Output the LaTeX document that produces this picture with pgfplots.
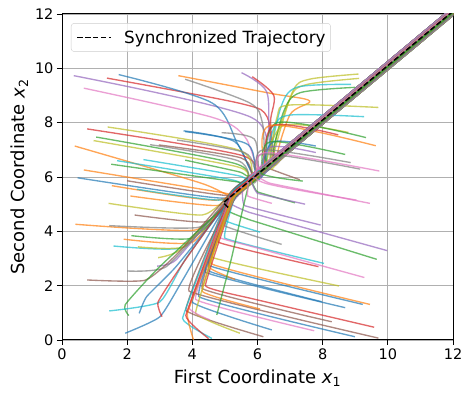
\documentclass[border=0pt]{standalone}
\usepackage{fontspec}
\setmainfont{DejaVu Sans}
\usepackage{pgfplots}
\pgfplotsset{compat=1.18}
\definecolor{C0}{RGB}{31,119,180}
\definecolor{C1}{RGB}{255,127,14}
\definecolor{C2}{RGB}{44,160,44}
\definecolor{C3}{RGB}{214,39,40}
\definecolor{C4}{RGB}{148,103,189}
\definecolor{C5}{RGB}{140,86,75}
\definecolor{C6}{RGB}{227,119,194}
\definecolor{C7}{RGB}{127,127,127}
\definecolor{C8}{RGB}{188,189,34}
\definecolor{C9}{RGB}{23,190,207}
\definecolor{gridgray}{RGB}{176,176,176}
\definecolor{leggray}{RGB}{204,204,204}
\pgfplotsset{tr/.style={line width=1.35pt, opacity=0.7, smooth, tension=0.5, forget plot, mark=none},
  tb/.style={tr, tension=0.3}, tc/.style={tr, tension=0.12}}
\begin{document}
\begin{tikzpicture}
\begin{axis}[name=ax, scale only axis, width=391pt, height=326pt,
  xmin=0, xmax=12, ymin=0, ymax=12,
  xtick={0,2,...,12}, ytick={0,2,...,12},
  grid=major, grid style={color=gridgray, line width=0.8pt},
  axis line style={line width=1pt},
  tick align=outside, tick pos=left, major tick length=5pt,
  tick style={black, line width=0.9pt},
  ticklabel style={font=\fontsize{14.5}{17}\selectfont},
  /pgf/number format/assume math mode=true,
  label style={font=\fontsize{18}{21}\selectfont},
  xlabel={First Coordinate {\itshape x}\textsubscript{1}},
  ylabel={Second Coordinate {\itshape x}\textsubscript{2}},
  xlabel style={yshift=-3pt},
  legend style={at={(0.023,0.972)}, anchor=north west, draw=leggray, rounded corners=3pt,
    fill=white, fill opacity=0.8, text opacity=1, inner xsep=3pt, inner ysep=5pt,
    font=\fontsize{16.8}{19}\selectfont},
  legend cell align=left,
  legend image code/.code={\path[draw=none, fill=none] (-3pt,-9pt) rectangle (45pt,9pt); \draw[#1] (0pt,0pt) -- (34pt,0pt);},
]
% Group A
\addplot[tr, color=C4] coordinates {(0.36,9.73) (5.8,8.2) (6.3,6.4) (7.1,7.2) (13,13.1)};
\addplot[tr, color=C3] coordinates {(1.38,9.64) (5.5,8.7) (6.3,8.2) (6.5,6.7) (7.3,7.5) (13,13.2)};
\addplot[tr, color=C0] coordinates {(1.74,9.77) (4.6,8.73) (5.4,7.2) (6.0,6.0) (6.8,6.8) (13,13.0)};
\addplot[tr, color=C6] coordinates {(0.67,9.27) (4.6,8.2) (5.6,7.5) (6.1,6.25) (6.9,7.05) (13,13.15)};
\addplot[tr, color=C1] coordinates {(3.57,9.73) (6.4,9.08) (7.6,8.8) (7.0,8.3) (6.6,6.65) (7.4,7.45) (13,13.05)};
\addplot[tr, color=C7] coordinates {(3.78,9.6) (5.77,8.72) (6.15,8.0) (6.3,6.55) (7.1,7.35) (13,13.25)};
\addplot[tr, color=C4] coordinates {(5.51,9.84) (6.28,9.14) (6.35,7.5) (6.5,6.45) (7.3,7.25) (13,12.95)};
\addplot[tr, color=C3] coordinates {(5.84,9.69) (6.5,9.0) (6.4,8.0) (6.6,6.7) (7.4,7.5) (13,13.1)};
\addplot[tr, color=C0] coordinates {(3.73,7.7) (5.3,7.3) (5.9,6.1) (6.7,6.9) (13,13.2)};
\addplot[tr, color=C3] coordinates {(0.77,7.77) (5.5,6.8) (6.0,6.0) (6.8,6.8) (13,13.0)};
\addplot[tr, color=C8] coordinates {(1.4,7.84) (5.4,7.0) (5.9,6.05) (6.7,6.85) (13,13.15)};
\addplot[tr, color=C2] coordinates {(1.05,7.47) (5.3,6.5) (5.8,5.85) (6.6,6.65) (13,13.05)};
\addplot[tr, color=C8] coordinates {(0.97,7.34) (5.3,6.4) (5.75,6.0) (6.55,6.8) (13,13.25)};
\addplot[tr, color=C7] coordinates {(2.7,7.19) (5.4,6.6) (5.85,5.8) (6.65,6.6) (13,12.95)};
\addplot[tr, color=C5] coordinates {(2.97,7.18) (5.5,6.7) (5.9,6.0) (6.7,6.8) (13,13.1)};
\addplot[tr, color=C7] coordinates {(3.53,7.36) (5.6,6.9) (6.0,6.2) (6.8,7.0) (13,13.2)};
\addplot[tr, color=C1] coordinates {(0.39,7.14) (4.2,5.8) (5.3,5.3) (6.1,6.1) (13,13.0)};
\addplot[tr, color=C9] coordinates {(2.5,6.64) (5.4,6.05) (5.7,5.85) (6.5,6.65) (13,13.15)};
\addplot[tr, color=C9] coordinates {(1.69,6.6) (5.2,5.9) (5.6,5.65) (6.4,6.45) (13,13.05)};
\addplot[tr, color=C2] coordinates {(1.51,6.47) (5.2,5.85) (5.6,5.85) (6.4,6.65) (13,13.25)};
\addplot[tr, color=C1] coordinates {(0.67,6.26) (4.8,5.45) (5.4,5.35) (6.2,6.15) (13,12.95)};
\addplot[tr, color=C0] coordinates {(0.48,5.97) (4.6,5.25) (5.3,5.4) (6.1,6.2) (13,13.1)};
\addplot[tr, color=C1] coordinates {(1.53,5.68) (4.6,5.15) (5.3,5.5) (6.1,6.3) (13,13.2)};
\addplot[tr, color=C5] coordinates {(2.0,5.86) (4.8,5.35) (5.4,5.4) (6.2,6.2) (13,13.0)};
\addplot[tr, color=C9] coordinates {(2.3,5.55) (4.8,5.15) (5.35,5.5) (6.15,6.3) (13,13.15)};
\addplot[tr, color=C1] coordinates {(2.1,5.3) (4.7,4.95) (5.3,5.35) (6.1,6.15) (13,13.05)};
\addplot[tr, color=C2] coordinates {(3.78,6.62) (5.4,6.2) (5.8,6.05) (6.6,6.85) (13,13.25)};
\addplot[tr, color=C0] coordinates {(3.78,7.67) (5.7,7.2) (6.0,5.95) (6.8,6.75) (13,12.95)};
\addplot[tr, color=C7] coordinates {(4.9,7.63) (5.9,7.4) (6.1,6.2) (6.9,7.0) (13,13.1)};
% Group B
\addplot[tb, color=C8] coordinates {(1.43,5.03) (4.3,4.6) (5.3,5.5) (6.1,6.3) (13,13.2)};
\addplot[tb, color=C5] coordinates {(2.23,4.6) (4.4,4.35) (5.35,5.35) (6.15,6.15) (13,13.0)};
\addplot[tb, color=C1] coordinates {(0.41,4.26) (4.1,4.05) (5.3,5.45) (6.1,6.25) (13,13.15)};
\addplot[tb, color=C7] coordinates {(1.45,4.21) (4.2,4.15) (5.35,5.4) (6.15,6.2) (13,13.05)};
\addplot[tb, color=C1] coordinates {(1.89,3.71) (4.0,3.6) (5.25,5.5) (6.05,6.3) (13,13.25)};
\addplot[tb, color=C2] coordinates {(2.13,3.84) (4.0,3.75) (5.3,5.25) (6.1,6.05) (13,12.95)};
\addplot[tb, color=C9] coordinates {(1.58,3.46) (3.7,3.4) (5.2,5.3) (6.0,6.1) (13,13.1)};
\addplot[tb, color=C8] coordinates {(2.33,3.43) (3.8,3.45) (5.25,5.45) (6.05,6.25) (13,13.2)};
\addplot[tb, color=C8] coordinates {(2.95,3.03) (3.6,3.3) (5.2,5.2) (6.0,6.0) (13,13.0)};
\addplot[tb, color=C4] coordinates {(2.92,2.72) (3.5,2.95) (5.2,5.35) (6.0,6.15) (13,13.15)};
\addplot[tb, color=C7] coordinates {(2.0,2.54) (3.2,2.7) (5.1,5.15) (5.9,5.95) (13,13.05)};
\addplot[tb, color=C5] coordinates {(0.77,2.21) (2.55,2.2) (3.6,3.25) (5.2,5.45) (6.0,6.25) (13,13.25)};
\addplot[tb, color=C2] coordinates {(2.05,0.9) (1.94,1.3) (3.0,2.7) (5.2,5.15) (6.0,5.95) (13,12.95)};
\addplot[tb, color=C9] coordinates {(1.45,1.07) (3.0,1.4) (3.8,3.0) (5.3,5.4) (6.1,6.2) (13,13.1)};
\addplot[tb, color=C0] coordinates {(1.94,0.25) (3.0,0.85) (3.7,2.2) (5.3,5.5) (6.1,6.3) (13,13.2)};
\addplot[tb, color=C0] coordinates {(2.37,0.98) (2.6,1.6) (3.5,2.7) (5.2,5.2) (6.0,6.0) (13,13.0)};
\addplot[tb, color=C3] coordinates {(3.07,0.86) (2.95,1.4) (3.7,2.8) (5.25,5.4) (6.05,6.2) (13,13.15)};
% Group C
\addplot[tc, color=C6] coordinates {(9.45,5.03) (6.38,5.77) (6.0,6.05) (6.8,6.85) (13,13.05)};
\addplot[tc, color=C4] coordinates {(7.94,4.23) (5.6,4.95) (5.55,5.8) (6.35,6.6) (13,13.25)};
\addplot[tc, color=C4] coordinates {(9.98,3.29) (5.77,4.69) (5.2,5.0) (5.5,5.45) (6.3,6.25) (13,12.95)};
\addplot[tc, color=C2] coordinates {(9.66,2.97) (5.77,4.42) (5.1,4.75) (5.5,5.6) (6.3,6.4) (13,13.1)};
\addplot[tc, color=C9] coordinates {(8.04,2.82) (5.0,3.75) (5.4,5.6) (6.2,6.4) (13,13.2)};
\addplot[tc, color=C3] coordinates {(7.87,2.7) (4.8,3.6) (5.35,5.35) (6.15,6.15) (13,13.0)};
\addplot[tc, color=C6] coordinates {(9.28,2.3) (5.77,3.46) (4.8,3.8) (5.4,5.55) (6.2,6.35) (13,13.15)};
\addplot[tc, color=C8] coordinates {(8.5,1.99) (4.6,3.05) (5.3,5.35) (6.1,6.15) (13,13.05)};
\addplot[tc, color=C1] coordinates {(9.45,1.31) (4.6,2.8) (5.35,5.6) (6.15,6.4) (13,13.25)};
\addplot[tc, color=C0] coordinates {(9.23,1.31) (4.5,2.75) (5.3,5.25) (6.1,6.05) (13,12.95)};
\addplot[tc, color=C0] coordinates {(8.69,1.19) (4.4,2.5) (5.3,5.4) (6.1,6.2) (13,13.1)};
\addplot[tc, color=C0] coordinates {(7.97,1.41) (4.5,2.55) (5.25,5.45) (6.05,6.25) (13,13.2)};
\addplot[tc, color=C3] coordinates {(9.58,0.47) (5.77,1.54) (4.4,2.0) (5.3,5.3) (6.1,6.1) (13,13.0)};
\addplot[tc, color=C5] coordinates {(8.28,0.67) (4.3,1.9) (5.25,5.4) (6.05,6.2) (13,13.15)};
\addplot[tc, color=C6] coordinates {(7.74,0.34) (4.1,1.5) (5.2,5.25) (6.0,6.05) (13,13.05)};
\addplot[tc, color=C0] coordinates {(8.99,0.12) (4.2,1.6) (5.25,5.5) (6.05,6.3) (13,13.25)};
\addplot[tc, color=C5] coordinates {(9.71,0.07) (3.9,1.8) (5.2,5.15) (6.0,5.95) (13,12.95)};
\addplot[tc, color=C7] coordinates {(6.74,3.52) (5.0,4.2) (5.4,5.5) (6.2,6.3) (13,13.1)};
\addplot[tc, color=C9] coordinates {(6.08,3.97) (5.0,4.4) (5.45,5.65) (6.25,6.45) (13,13.2)};
\addplot[tc, color=C1] coordinates {(5.31,2.23) (4.5,2.7) (5.3,5.3) (6.1,6.1) (13,13.0)};
\addplot[tc, color=C1] coordinates {(6.08,1.14) (4.3,1.8) (5.25,5.4) (6.05,6.2) (13,13.15)};
\addplot[tc, color=C0] coordinates {(6.44,0.37) (4.0,1.4) (5.2,5.25) (6.0,6.05) (13,13.05)};
\addplot[tc, color=C5] coordinates {(6.18,0.12) (3.8,1.1) (5.15,5.4) (5.95,6.2) (13,13.25)};
\addplot[tc, color=C8] coordinates {(5.46,0.25) (4.1,1.0) (5.2,5.15) (6.0,5.95) (13,12.95)};
\addplot[tc, color=C6] coordinates {(4.54,0.74) (3.9,1.2) (5.2,5.3) (6.0,6.1) (13,13.1)};
\addplot[tc, color=C9] coordinates {(4.6,0.06) (3.7,0.8) (5.15,5.35) (5.95,6.15) (13,13.2)};
\addplot[tc, color=C1] coordinates {(4.05,-0.05) (3.85,1.0) (5.2,5.2) (6.0,6.0) (13,13.0)};
\addplot[tc, color=C3] coordinates {(4.5,0.05) (3.8,0.9) (5.15,5.3) (5.95,6.1) (13,13.15)};
\addplot[tc, color=C2] coordinates {(4.75,0.92) (5.2,3.0) (5.75,5.8) (6.55,6.6) (13,13.05)};
\addplot[tc, color=C6] coordinates {(6.44,5.03) (5.7,5.3) (5.75,6.0) (6.55,6.8) (13,13.25)};
\addplot[tc, color=C2] coordinates {(7.15,5.05) (6.0,5.45) (5.85,5.8) (6.65,6.6) (13,12.95)};
\addplot[tc, color=C4] coordinates {(7.46,5.0) (6.0,5.4) (5.8,5.9) (6.6,6.7) (13,13.1)};
\addplot[tc, color=C5] coordinates {(7.3,5.9) (6.2,6.4) (7.0,7.2) (13,13.2)};
% Group D
\addplot[tr, color=C8] coordinates {(9.1,9.79) (7.6,9.6) (7.1,9.2) (6.6,7.3) (6.5,6.5) (7.3,7.3) (13,13.0)};
\addplot[tr, color=C8] coordinates {(9.12,9.63) (7.5,9.4) (7.0,8.9) (6.4,6.55) (7.2,7.35) (13,13.15)};
\addplot[tr, color=C9] coordinates {(8.87,9.41) (7.2,9.3) (6.7,8.5) (6.4,6.45) (7.2,7.25) (13,13.05)};
\addplot[tr, color=C2] coordinates {(9.0,9.3) (7.3,9.1) (6.8,8.4) (6.5,6.75) (7.3,7.55) (13,13.25)};
\addplot[tr, color=C8] coordinates {(9.71,8.56) (7.0,8.65) (6.6,8.2) (6.4,6.35) (7.2,7.15) (13,12.95)};
\addplot[tr, color=C9] coordinates {(9.27,8.22) (7.0,8.28) (6.5,7.8) (6.3,6.4) (7.1,7.2) (13,13.1)};
\addplot[tr, color=C8] coordinates {(8.79,7.64) (6.8,7.9) (6.3,6.5) (7.1,7.3) (13,13.2)};
\addplot[tr, color=C2] coordinates {(9.33,7.45) (6.6,8.0) (6.3,6.3) (7.1,7.1) (13,13.0)};
\addplot[tr, color=C3] coordinates {(8.48,7.55) (6.5,7.9) (6.25,6.4) (7.05,7.2) (13,13.15)};
\addplot[tr, color=C1] coordinates {(9.63,7.15) (6.4,7.9) (6.3,6.35) (7.1,7.15) (13,13.05)};
\addplot[tr, color=C0] coordinates {(7.79,7.14) (6.5,7.3) (6.2,6.45) (7.0,7.25) (13,13.25)};
\addplot[tr, color=C4] coordinates {(7.79,6.9) (6.4,7.1) (6.1,6.05) (6.9,6.85) (13,12.95)};
\addplot[tr, color=C2] coordinates {(8.69,6.83) (6.4,7.3) (6.2,6.3) (7.0,7.1) (13,13.1)};
\addplot[tr, color=C7] coordinates {(8.86,6.53) (6.2,7.0) (6.1,6.3) (6.9,7.1) (13,13.2)};
\addplot[tr, color=C7] coordinates {(9.15,6.29) (6.2,6.85) (6.05,6.05) (6.85,6.85) (13,13.0)};
\addplot[tr, color=C6] coordinates {(9.74,6.22) (6.3,6.9) (6.1,6.25) (6.9,7.05) (13,13.15)};
\addplot[tr, color=C2] coordinates {(7.39,5.85) (6.1,6.15) (6.9,6.95) (13,13.05)};
\addplot[tr, color=C6] coordinates {(9.04,5.15) (6.3,5.75) (5.95,6.2) (6.75,7.0) (13,13.25)};
% Synchronized trajectory
\addplot[black, line width=1.5pt, dash pattern=on 5.5pt off 2.4pt] coordinates {(5.1,4.88) (4.95,5.05) (5.2,5.3) (12.9,13.0)};
\addlegendentry{Synchronized Trajectory}
\end{axis}
\pgfresetboundingbox
\path[use as bounding box] ([shift={(-62pt,-58pt)}]ax.south west) rectangle ([shift={(17pt,14pt)}]ax.north east);
\end{tikzpicture}
\end{document}
